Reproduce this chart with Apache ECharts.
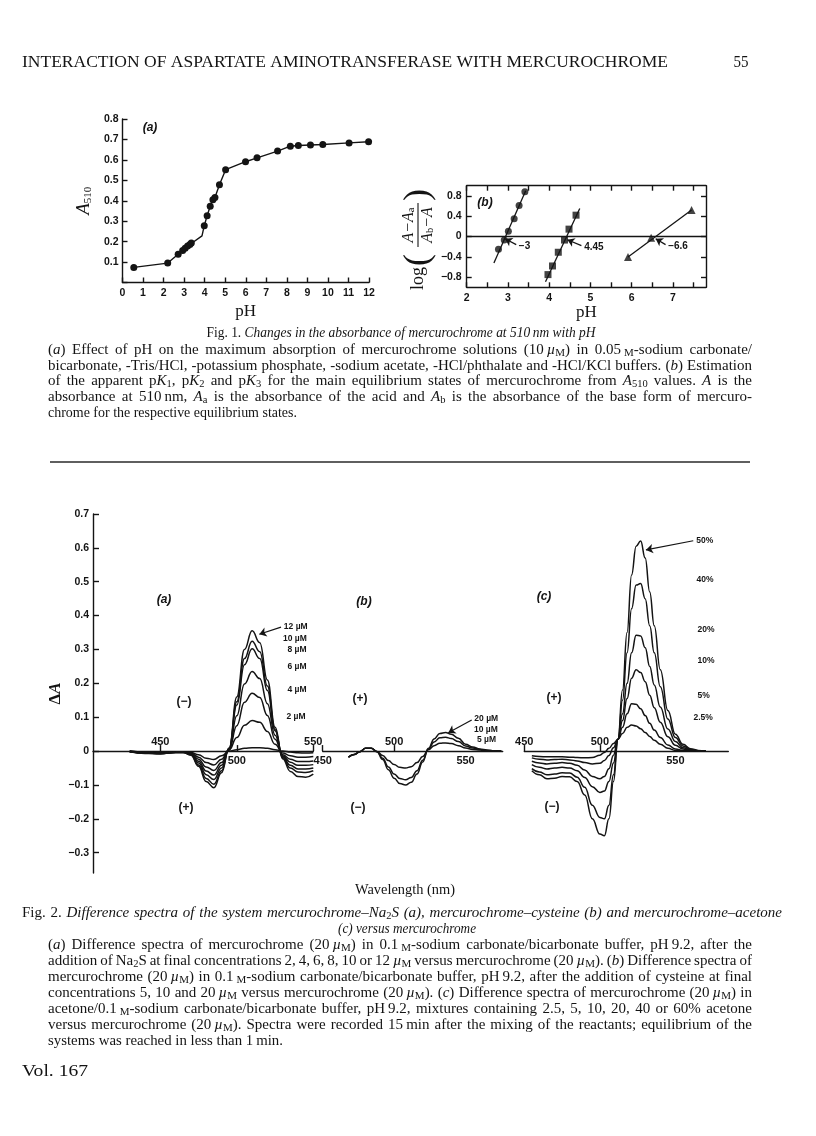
<!DOCTYPE html>
<html>
<head>
<meta charset="utf-8">
<title>Mercurochrome - Fig. 1 and Fig. 2</title>
<script src="https://cdn.jsdelivr.net/npm/echarts@6/dist/echarts.min.js"></script>
<style>
  html, body { margin: 0; padding: 0; background: #fff; }
  #main { width: 816px; height: 1136px; }
</style>
</head>
<body>
<div id="main"></div>
<script>
// Fig. 1(a): absorbance at 510 nm against pH
var phA = [0.55, 2.2, 2.71, 2.93, 3.05, 3.17, 3.28, 3.35, 3.87, 3.98, 4.12, 4.27, 4.40, 4.50, 4.72, 5.02, 5.99, 6.55, 7.55, 8.17, 8.56, 9.15, 9.75, 11.03, 11.98];
var a510 = [0.074, 0.095, 0.138, 0.157, 0.168, 0.178, 0.186, 0.193, 0.228, 0.278, 0.327, 0.373, 0.405, 0.416, 0.478, 0.552, 0.591, 0.610, 0.643, 0.667, 0.670, 0.673, 0.675, 0.683, 0.689];
var bendNoDot = [8];   // the line bends here but no point is drawn

// Fig. 1(b): log((A-Aa)/(Ab-A)) against pH
var phCirc = [2.77, 2.91, 3.01, 3.15, 3.27, 3.41];
var logCirc = [-0.25, -0.07, 0.105, 0.35, 0.61, 0.88];
var phSq = [3.97, 4.08, 4.22, 4.37, 4.48, 4.65];
var logSq = [-0.75, -0.58, -0.31, -0.07, 0.145, 0.42];
var phTri = [5.91, 6.47, 7.45];
var logTri = [-0.405, -0.025, 0.52];
var fitCirc = [[2.66, -0.52], [3.43, 0.9]];
var fitSq = [[3.91, -0.89], [4.74, 0.55]];
var fitTri = [[5.91, -0.405], [7.45, 0.52]];
var pKArrows = [[[3.20, -0.16], [2.93, -0.045]], [[4.78, -0.18], [4.44, -0.065]], [[6.82, -0.16], [6.58, -0.045]]];
var pKLabels = ['\u22123', '4.45', '\u22126.6'];
var pHTicksB = [2, 2.5, 3, 3.5, 4, 4.5, 5, 5.5, 6, 6.5, 7, 7.5];
var pHLabelsB = [2, 3, 4, 5, 6, 7];
var logTicksB = [-0.8, -0.4, 0, 0.4, 0.8];

// Fig. 2(a): mercurochrome-Na2S, 0..12 uM
var wlA = [430, 440, 450, 460, 465, 470, 475, 480, 485, 490, 495, 500, 505, 510, 515, 520, 525, 530, 535, 540, 545, 550];
var naS0 = [0, -0.003, -0.004, -0.002, -0.002, -0.004, -0.011, -0.021, -0.025, -0.014, 0, 0.004, 0.008, 0.01, 0.01, 0.008, 0.004, 0, -0.003, -0.005, -0.006, -0.005];
var naS2 = [0, -0.004, -0.005, -0.003, -0.003, -0.006, -0.018, -0.034, -0.041, -0.024, 0.003, 0.04, 0.076, 0.09, 0.085, 0.058, 0.02, -0.006, -0.014, -0.018, -0.018, -0.016];
var naS4 = [-0.001, -0.005, -0.006, -0.003, -0.003, -0.007, -0.024, -0.047, -0.057, -0.034, 0.005, 0.075, 0.144, 0.171, 0.158, 0.105, 0.035, -0.011, -0.024, -0.031, -0.031, -0.029];
var naS6 = [-0.001, -0.005, -0.007, -0.003, -0.003, -0.008, -0.03, -0.059, -0.071, -0.042, 0.006, 0.104, 0.198, 0.235, 0.214, 0.14, 0.047, -0.014, -0.033, -0.042, -0.042, -0.04];
var naS8 = [-0.001, -0.006, -0.007, -0.004, -0.004, -0.009, -0.035, -0.07, -0.084, -0.05, 0.008, 0.136, 0.255, 0.302, 0.273, 0.179, 0.06, -0.017, -0.042, -0.053, -0.053, -0.05];
var naS10 = [-0.002, -0.006, -0.008, -0.004, -0.004, -0.011, -0.041, -0.081, -0.098, -0.058, 0.008, 0.146, 0.273, 0.324, 0.293, 0.192, 0.064, -0.02, -0.05, -0.062, -0.063, -0.058];
var naS12 = [-0.002, -0.007, -0.008, -0.004, -0.004, -0.012, -0.045, -0.09, -0.108, -0.064, 0.009, 0.16, 0.3, 0.355, 0.32, 0.21, 0.07, -0.023, -0.06, -0.075, -0.077, -0.068];
var arrowA = [[528.9, 0.366], [514.7, 0.345]];

// Fig. 2(b): mercurochrome-cysteine, 5/10/20 uM
var wlB = [468, 472, 476, 480, 484, 488, 492, 496, 500, 504, 508, 512, 516, 520, 524, 528, 532, 536, 540, 545, 550, 555, 560, 565, 570, 575];
var cys5 = [-0.018, -0.01, -0.002, 0.008, 0.008, -0.001, -0.013, -0.028, -0.04, -0.048, -0.05, -0.046, -0.034, -0.016, 0.004, 0.016, 0.023, 0.024, 0.022, 0.016, 0.009, 0.005, 0.003, 0.001, 0, 0];
var cys10 = [-0.018, -0.01, -0.002, 0.008, 0.008, -0.002, -0.021, -0.047, -0.068, -0.081, -0.085, -0.078, -0.058, -0.027, 0.006, 0.027, 0.039, 0.041, 0.037, 0.028, 0.015, 0.009, 0.005, 0.002, 0.001, 0];
var cys20 = [-0.018, -0.01, -0.002, 0.008, 0.008, -0.002, -0.025, -0.055, -0.08, -0.096, -0.1, -0.092, -0.068, -0.032, 0.008, 0.036, 0.052, 0.055, 0.05, 0.038, 0.02, 0.012, 0.006, 0.003, 0.001, 0];
var arrowB = [[554.3, 0.092], [537.9, 0.054]];

// Fig. 2(c): mercurochrome-acetone, 2.5..50 %
var wlC = [455, 460, 465, 470, 475, 480, 485, 490, 495, 500, 503, 506, 509, 512, 515, 518, 521, 524, 527, 530, 533, 536, 540, 545, 550, 555, 560, 565, 570];
var ace2p5 = [-0.014, -0.016, -0.017, -0.017, -0.017, -0.018, -0.019, -0.02, -0.019, -0.012, -0.004, 0.008, 0.022, 0.035, 0.052, 0.07, 0.077, 0.074, 0.066, 0.055, 0.043, 0.032, 0.02, 0.008, 0.002, 0, 0, 0, 0];
var ace5 = [-0.02, -0.024, -0.026, -0.025, -0.024, -0.026, -0.029, -0.034, -0.038, -0.036, -0.028, -0.013, 0.01, 0.035, 0.07, 0.11, 0.14, 0.138, 0.125, 0.105, 0.082, 0.062, 0.04, 0.018, 0.006, 0.002, 0, 0, 0];
var ace10 = [-0.03, -0.035, -0.038, -0.036, -0.034, -0.036, -0.042, -0.056, -0.075, -0.082, -0.075, -0.052, -0.012, 0.035, 0.09, 0.155, 0.215, 0.24, 0.232, 0.205, 0.165, 0.128, 0.085, 0.042, 0.017, 0.006, 0.002, 0, 0];
var ace20 = [-0.04, -0.048, -0.053, -0.05, -0.048, -0.05, -0.058, -0.078, -0.105, -0.122, -0.118, -0.09, -0.035, 0.035, 0.11, 0.2, 0.29, 0.342, 0.34, 0.305, 0.25, 0.195, 0.13, 0.065, 0.028, 0.01, 0.003, 0.001, 0];
var ace40 = [-0.052, -0.062, -0.07, -0.068, -0.064, -0.065, -0.077, -0.107, -0.16, -0.196, -0.2, -0.16, -0.07, 0.035, 0.15, 0.29, 0.42, 0.49, 0.495, 0.45, 0.37, 0.29, 0.19, 0.095, 0.04, 0.015, 0.005, 0.001, 0];
var ace50 = [-0.058, -0.07, -0.082, -0.08, -0.075, -0.076, -0.09, -0.13, -0.2, -0.245, -0.25, -0.2, -0.09, 0.035, 0.18, 0.35, 0.52, 0.605, 0.62, 0.57, 0.47, 0.37, 0.24, 0.12, 0.05, 0.02, 0.007, 0.002, 0];
var arrowC = [[561.8, 0.621], [530.5, 0.594]];

// wavelength axis ticks / labels (up = label above the line)
var dATicks = [-0.3, -0.2, -0.1, 0, 0.1, 0.2, 0.3, 0.4, 0.5, 0.6, 0.7];
var wlTicksA = [450, 500, 550], wlUpA = [450, 550], wlDownA = [500];
var wlTicksB = [450, 500], wlUpB = [500], wlDownB = [450, 550];
var wlTicksC = [450, 500], wlUpC = [450, 500], wlDownC = [550];

var INK = '#141414';
var SERIF = "'Liberation Serif', 'DejaVu Serif', serif";
var SANS = "'Liberation Sans', 'DejaVu Sans', sans-serif";
var tickFont = { fontFamily: SANS, fontWeight: 'bold', fontSize: 10.5, color: INK };
var inkLine = { color: INK, width: 1.4 };

// fig. 2 shares one dA scale; the wavelength axes sit on dA = 0
var dAMin = -0.36, dAMax = 0.7, fig2Top = 514, fig2Height = 359;
var zeroFromTop = fig2Height * dAMax / (dAMax - dAMin);

function minus(v) {
  if (v === 0) return '0';
  return v.toFixed(1).replace('-', '\u2212');
}

function arrow(pts, text, size) {
  return {
    silent: true,
    symbol: ['none', 'arrow'],
    symbolSize: 7,
    lineStyle: { type: 'solid', color: INK, width: 1.2 },
    label: {
      show: !!text, position: 'start', formatter: text || '', distance: 3,
      fontFamily: SANS, fontWeight: 'bold', fontSize: size || 9, color: INK
    },
    data: [[{ coord: pts[0] }, { coord: pts[1] }]]
  };
}

// ---- caption text: *italic*  _subscript_  ^small caps^ ----
var mctx = document.createElement('canvas').getContext('2d');
var capRich = {
  t: { fontFamily: SERIF, fontSize: 15, lineHeight: 18, color: INK },
  h: { fontFamily: SERIF, fontSize: 17.5, lineHeight: 20, color: INK },
  i: { fontFamily: SERIF, fontSize: 15, fontStyle: 'italic', lineHeight: 18, color: INK },
  s: { fontFamily: SERIF, fontSize: 10.5, lineHeight: 11, verticalAlign: 'bottom', color: INK },
  c: { fontFamily: SERIF, fontSize: 11, lineHeight: 15, verticalAlign: 'bottom', color: INK }
};
function fontOf(st) { return (st.fontStyle || 'normal') + ' ' + st.fontSize + 'px ' + st.fontFamily; }
function parse(src, plain) {
  var out = [];
  src.split(/(\*[^*]*\*|_[^_]*_|\^[^\^]*\^)/).forEach(function (p) {
    if (!p) return;
    var c = p.charAt(0);
    if (c === '*') out.push(['i', p.slice(1, -1)]);
    else if (c === '_') out.push(['s', p.slice(1, -1)]);
    else if (c === '^') out.push(['c', p.slice(1, -1)]);
    else out.push([plain || 't', p]);
  });
  return out;
}
function textEl(str, rich, x, y, sx, align) {
  return {
    type: 'text', x: x, y: y, scaleX: sx, silent: true,
    style: { text: str, rich: rich, fill: INK, textAlign: align || 'left', textVerticalAlign: 'middle', align: align || 'left', verticalAlign: 'middle' }
  };
}
// squeeze or stretch a whole line (headings, short lines)
function textLine(src, x, y, width, align, plain) {
  var segs = parse(src, plain), natural = 0, str = '';
  segs.forEach(function (s) {
    mctx.font = fontOf(capRich[s[0]]);
    natural += mctx.measureText(s[1]).width;
    str += '{' + s[0] + '|' + s[1] + '}';
  });
  return textEl(str, capRich, x, y, width ? width / natural : 1, align);
}
// justified body line: the spare room goes into the word spaces
function justLine(src, x, y, width) {
  var tokens = [], wordsW = 0, spaces = 0, spaceNat = 0;
  parse(src).forEach(function (s) {
    mctx.font = fontOf(capRich[s[0]]);
    s[1].split(/( )/).forEach(function (p) {
      if (!p) return;
      if (p === ' ') { spaces++; spaceNat += mctx.measureText(' ').width; tokens.push(null); }
      else { wordsW += mctx.measureText(p).width; tokens.push([s[0], p]); }
    });
  });
  var sx = 1, sw = (width - wordsW) / spaces;
  if (sw < 2.8) { sw = spaceNat / spaces; sx = width / (wordsW + spaceNat); }
  var rich = Object.assign({}, capRich, { w: { width: sw, lineHeight: 18 } });
  var str = tokens.map(function (t) { return t ? '{' + t[0] + '|' + t[1] + '}' : '{w|\u00a0}'; }).join('');
  return textEl(str, rich, x, y, sx, 'left');
}
function label(text, x, y, font, align) {
  return {
    type: 'text', x: x, y: y, silent: true,
    style: { text: text, font: font, fill: INK, textAlign: align || 'center', textVerticalAlign: 'middle', align: align || 'center', verticalAlign: 'middle' }
  };
}

var fig1Caption = [
  'Fig. 1. *Changes in the absorbance of mercurochrome at 510\u2009nm with pH*',
  '(*a*) Effect of pH on the maximum absorption of mercurochrome solutions (10\u2009*\u00b5*^M^) in 0.05\u2009^M^-sodium carbonate/',
  'bicarbonate, -Tris/HCl, -potassium phosphate, -sodium acetate, -HCl/phthalate and -HCl/KCl buffers. (*b*) Estimation',
  'of the apparent p*K*_1_, p*K*_2_ and p*K*_3_ for the main equilibrium states of mercurochrome from *A*_510_ values. *A* is the',
  'absorbance at 510\u2009nm, *A*_a_ is the absorbance of the acid and *A*_b_ is the absorbance of the base form of mercuro-',
  'chrome for the respective equilibrium states.'
];
var fig2Caption = [
  'Fig. 2. *Difference spectra of the system mercurochrome\u2013Na*_2_*S (a), mercurochrome\u2013cysteine (b) and mercurochrome\u2013acetone*',
  '*(c) versus mercurochrome*',
  '(*a*) Difference spectra of mercurochrome (20\u2009*\u00b5*^M^) in 0.1\u2009^M^-sodium carbonate/bicarbonate buffer, pH\u20099.2, after the',
  'addition of Na_2_S at final concentrations 2, 4, 6, 8, 10 or 12\u2009*\u00b5*^M^ versus mercurochrome (20\u2009*\u00b5*^M^). (*b*) Difference spectra of',
  'mercurochrome (20\u2009*\u00b5*^M^) in 0.1\u2009^M^-sodium carbonate/bicarbonate buffer, pH\u20099.2, after the addition of cysteine at final',
  'concentrations 5, 10 and 20\u2009*\u00b5*^M^ versus mercurochrome (20\u2009*\u00b5*^M^). (*c*) Difference spectra of mercurochrome (20\u2009*\u00b5*^M^) in',
  'acetone/0.1\u2009^M^-sodium carbonate/bicarbonate buffer, pH\u20099.2, mixtures containing 2.5, 5, 10, 20, 40 or 60% acetone',
  'versus mercurochrome (20\u2009*\u00b5*^M^). Spectra were recorded 15\u2009min after the mixing of the reactants; equilibrium of the',
  'systems was reached in less than 1\u2009min.'
];

var graphics = [];
graphics.push(textLine('INTERACTION OF ASPARTATE AMINOTRANSFERASE WITH MERCUROCHROME', 22, 62, 646, 'left', 'h'));
graphics.push(textLine('55', 741, 62, 15, 'center', 'h'));
graphics.push(textLine(fig1Caption[0], 401, 333, 389, 'center'));
[350, 366, 381, 397].forEach(function (y, k) { graphics.push(justLine(fig1Caption[k + 1], 48, y, 704)); });
graphics.push(textLine(fig1Caption[5], 48, 413, 249));
graphics.push({ type: 'line', silent: true, shape: { x1: 50, y1: 462, x2: 750, y2: 462 }, style: { stroke: '#2a2a2a', lineWidth: 1.3 } });
graphics.push(justLine(fig2Caption[0], 22, 913, 760));
graphics.push(textLine(fig2Caption[1], 407, 929, 138, 'center'));
[945, 961, 977, 993, 1009, 1025].forEach(function (y, k) { graphics.push(justLine(fig2Caption[k + 2], 48, y, 704)); });
graphics.push(textLine(fig2Caption[8], 48, 1041, 235));
graphics.push(textLine('Vol. 167', 22, 1071, 66, 'left', 'h'));
graphics.push(textLine('Wavelength (nm)', 405, 890, 100, 'center'));

// panel marks
var panelFont = 'italic bold 12px ' + SANS;
graphics.push(label('(a)', 150, 128, panelFont));
graphics.push(label('(b)', 485, 203, panelFont));
graphics.push(label('(a)', 164, 600, panelFont));
graphics.push(label('(b)', 364, 602, panelFont));
graphics.push(label('(c)', 544, 597, panelFont));
var signFont = 'bold 12px ' + SANS;
graphics.push(label('(\u2212)', 184, 702, signFont));
graphics.push(label('(+)', 186, 808, signFont));
graphics.push(label('(+)', 360, 699, signFont));
graphics.push(label('(\u2212)', 358, 808, signFont));
graphics.push(label('(+)', 554, 698, signFont));
graphics.push(label('(\u2212)', 552, 807, signFont));

// concentration tags
var tagFont = 'bold 8.5px ' + SANS;
[['10 \u00b5M', 283, 639], ['8 \u00b5M', 287.5, 649.5], ['6 \u00b5M', 287.5, 667], ['4 \u00b5M', 287.5, 690], ['2 \u00b5M', 286.5, 716.5],
 ['10 \u00b5M', 474, 729.5], ['5 \u00b5M', 477, 740],
 ['40%', 696.5, 580], ['20%', 697.5, 629.5], ['10%', 697.5, 661], ['5%', 697.5, 695.5], ['2.5%', 693.5, 717.5]].forEach(function (t) {
  graphics.push(label(t[0], t[1], t[2], tagFont, 'left'));
});

// y-axis name of Fig. 1(b): log((A-Aa)/(Ab-A))
var fracRich = {
  i: { fontFamily: SERIF, fontStyle: 'italic', fontSize: 16, color: INK },
  s: { fontFamily: SERIF, fontSize: 10.5, lineHeight: 9, verticalAlign: 'bottom', color: INK }
};
function mid(extra) {
  return Object.assign({ fill: INK, textAlign: 'left', textVerticalAlign: 'middle', align: 'left', verticalAlign: 'middle' }, extra);
}
graphics.push({
  type: 'group', x: 418, y: 234, rotation: Math.PI / 2, silent: true,
  children: [
    { type: 'text', x: -56, y: 0, style: mid({ text: 'log', font: '18px ' + SERIF }) },
    { type: 'text', x: -32, y: 1, style: mid({ text: '(', font: '36px ' + SERIF }) },
    { type: 'text', x: 9, y: -9, style: mid({ text: '{i|A\u2212A}{s|a}', rich: fracRich, textAlign: 'center', align: 'center' }) },
    { type: 'line', shape: { x1: -13, y1: 0, x2: 31, y2: 0 }, style: { stroke: INK, lineWidth: 1.1 } },
    { type: 'text', x: 9, y: 10, style: mid({ text: '{i|A}{s|b}{i|\u2212A}', rich: fracRich, textAlign: 'center', align: 'center' }) },
    { type: 'text', x: 33, y: 1, style: mid({ text: ')', font: '36px ' + SERIF }) }
  ]
});

// ---- axes ----
function wlAxes(grid, min, max, ticks, up, down) {
  return [
    {
      gridIndex: grid, type: 'value', position: 'top', min: min, max: max,
      offset: -zeroFromTop,
      axisLine: { onZero: false, lineStyle: inkLine },
      axisTick: { show: true, length: 6, customValues: ticks, lineStyle: inkLine },
      axisLabel: Object.assign({ customValues: up, margin: 4 }, tickFont, { fontSize: 11 }),
      splitLine: { show: false }
    },
    {
      gridIndex: grid, type: 'value', position: 'bottom', min: min, max: max,
      offset: -(fig2Height - zeroFromTop),
      axisLine: { show: false, onZero: false },
      axisTick: { show: false },
      axisLabel: Object.assign({ customValues: down, margin: 4 }, tickFont, { fontSize: 11 }),
      splitLine: { show: false }
    }
  ];
}

var xAxes = [
  {
    gridIndex: 0, type: 'value', min: 0, max: 12, interval: 1,
    axisLine: { lineStyle: inkLine },
    axisTick: { inside: true, length: 5, lineStyle: inkLine },
    axisLabel: Object.assign({ margin: 5 }, tickFont),
    splitLine: { show: false },
    name: 'pH', nameLocation: 'middle', nameGap: 21,
    nameTextStyle: { fontFamily: SERIF, fontSize: 17, color: INK }
  },
  {
    gridIndex: 1, type: 'value', position: 'bottom', min: 2, max: 7.8,
    axisLine: { onZero: false, lineStyle: inkLine },
    axisTick: { inside: true, length: 5, customValues: pHTicksB, lineStyle: inkLine },
    axisLabel: Object.assign({ margin: 5, customValues: pHLabelsB }, tickFont),
    splitLine: { show: false },
    name: 'pH', nameLocation: 'middle', nameGap: 10,
    nameTextStyle: { fontFamily: SERIF, fontSize: 17, color: INK }
  },
  {
    gridIndex: 1, type: 'value', position: 'top', min: 2, max: 7.8,
    axisLine: { onZero: false, lineStyle: inkLine },
    axisTick: { inside: true, length: 5, customValues: pHTicksB, lineStyle: inkLine },
    axisLabel: { show: false },
    splitLine: { show: false }
  }
].concat(wlAxes(2, 406, 550, wlTicksA, wlUpA, wlDownA))
 .concat(wlAxes(3, 450, 576, wlTicksB, wlUpB, wlDownB))
 .concat(wlAxes(4, 450, 585, wlTicksC, wlUpC, wlDownC));

var yAxes = [
  {
    gridIndex: 0, type: 'value', min: 0, max: 0.8, interval: 0.1,
    axisLine: { lineStyle: inkLine },
    axisTick: { inside: true, length: 5, lineStyle: inkLine },
    axisLabel: Object.assign({ margin: 4, formatter: function (v) { return v === 0 ? '' : v.toFixed(1); } }, tickFont),
    splitLine: { show: false },
    name: '{a|A}{b|510}', nameLocation: 'middle', nameRotate: 90, nameGap: 29,
    nameTextStyle: {
      rich: {
        a: { fontFamily: SERIF, fontStyle: 'italic', fontSize: 19, color: INK },
        b: { fontFamily: SERIF, fontSize: 11, lineHeight: 10, verticalAlign: 'bottom', color: INK }
      }
    }
  },
  {
    gridIndex: 1, type: 'value', position: 'left', min: -1, max: 1,
    axisLine: { onZero: false, lineStyle: inkLine },
    axisTick: { inside: true, length: 5, customValues: logTicksB, lineStyle: inkLine },
    axisLabel: Object.assign({ margin: 5, customValues: logTicksB, formatter: minus }, tickFont),
    splitLine: { show: false }
  },
  {
    gridIndex: 1, type: 'value', position: 'right', min: -1, max: 1,
    axisLine: { onZero: false, lineStyle: inkLine },
    axisTick: { inside: true, length: 5, customValues: logTicksB, lineStyle: inkLine },
    axisLabel: { show: false },
    splitLine: { show: false }
  },
  {
    gridIndex: 2, type: 'value', min: dAMin, max: dAMax,
    axisLine: { onZero: false, lineStyle: inkLine },
    axisTick: { inside: true, length: 6, customValues: dATicks, lineStyle: inkLine },
    axisLabel: Object.assign({ margin: 4, customValues: dATicks, formatter: minus }, tickFont),
    splitLine: { show: false },
    name: '{d|\u0394}{a|A}', nameLocation: 'middle', nameRotate: 90, nameGap: 27,
    nameTextStyle: {
      rich: {
        d: { fontFamily: SERIF, fontWeight: 'bold', fontSize: 17, color: INK },
        a: { fontFamily: SERIF, fontStyle: 'italic', fontWeight: 'bold', fontSize: 17, color: INK }
      }
    }
  },
  { gridIndex: 3, type: 'value', min: dAMin, max: dAMax, show: false },
  { gridIndex: 4, type: 'value', min: dAMin, max: dAMax, show: false }
];

// ---- series ----
function pairs(xs, ys) { return xs.map(function (x, i) { return [x, ys[i]]; }); }
function spectrum(xIdx, yIdx, xs, ys) {
  return {
    type: 'line', xAxisIndex: xIdx, yAxisIndex: yIdx, data: pairs(xs, ys),
    showSymbol: false, symbol: 'none', smooth: 0.45, smoothMonotone: 'x', silent: true,
    lineStyle: { color: INK, width: 1.5 }
  };
}
function marks(symbol, size, xs, ys) {
  return {
    type: 'scatter', xAxisIndex: 1, yAxisIndex: 1, data: pairs(xs, ys),
    symbol: symbol, symbolSize: size, itemStyle: { color: INK }, silent: true
  };
}
function fit(pts, k) {
  return {
    type: 'line', xAxisIndex: 1, yAxisIndex: 1, data: pts, symbol: 'none', silent: true,
    lineStyle: { color: INK, width: 1.3 },
    markLine: arrow(pKArrows[k], pKLabels[k], 10)
  };
}

var series = [
  {
    type: 'line', xAxisIndex: 0, yAxisIndex: 0, silent: true,
    data: phA.map(function (x, i) {
      return bendNoDot.indexOf(i) >= 0 ? { value: [x, a510[i]], symbol: 'none' } : [x, a510[i]];
    }),
    symbol: 'circle', symbolSize: 7, itemStyle: { color: INK },
    lineStyle: { color: INK, width: 1.4 }
  },
  Object.assign(marks('circle', 7, phCirc, logCirc), {
    markLine: {
      silent: true, symbol: ['none', 'none'], label: { show: false },
      lineStyle: { type: 'solid', color: INK, width: 1.3 },
      data: [{ yAxis: 0 }]
    }
  }),
  marks('rect', 7, phSq, logSq),
  marks('triangle', 8, phTri, logTri),
  fit(fitCirc, 0),
  fit(fitSq, 1),
  fit(fitTri, 2)
];

var spectraA = [naS0, naS2, naS4, naS6, naS8, naS10, naS12];
spectraA.forEach(function (vals, k) {
  var s = spectrum(3, 3, wlA, vals);
  if (k === spectraA.length - 1) s.markLine = arrow(arrowA, '12 \u00b5M', 8.5);
  series.push(s);
});
var spectraB = [cys5, cys10, cys20];
spectraB.forEach(function (vals, k) {
  var s = spectrum(5, 4, wlB, vals);
  if (k === spectraB.length - 1) s.markLine = arrow(arrowB, '20 \u00b5M', 8.5);
  series.push(s);
});
var spectraC = [ace2p5, ace5, ace10, ace20, ace40, ace50];
spectraC.forEach(function (vals, k) {
  var s = spectrum(7, 5, wlC, vals);
  if (k === spectraC.length - 1) s.markLine = arrow(arrowC, '50%', 8.5);
  series.push(s);
});

var chart = echarts.init(document.getElementById('main'));
var option = {
  animation: false,
  backgroundColor: '#ffffff',
  grid: [
    { left: 122.5, top: 119, width: 246.5, height: 163.5, outerBoundsMode: 'none' },
    { left: 466.7, top: 185.7, width: 239.3, height: 101.6, outerBoundsMode: 'none' },
    { left: 93, top: fig2Top, width: 220.3, height: fig2Height, outerBoundsMode: 'none' },
    { left: 322.7, top: fig2Top, width: 180, height: fig2Height, outerBoundsMode: 'none' },
    { left: 524.3, top: fig2Top, width: 204, height: fig2Height, outerBoundsMode: 'none' }
  ],
  xAxis: xAxes,
  yAxis: yAxes,
  series: series,
  graphic: graphics
};
option && chart.setOption(option);
</script>
</body>
</html>
